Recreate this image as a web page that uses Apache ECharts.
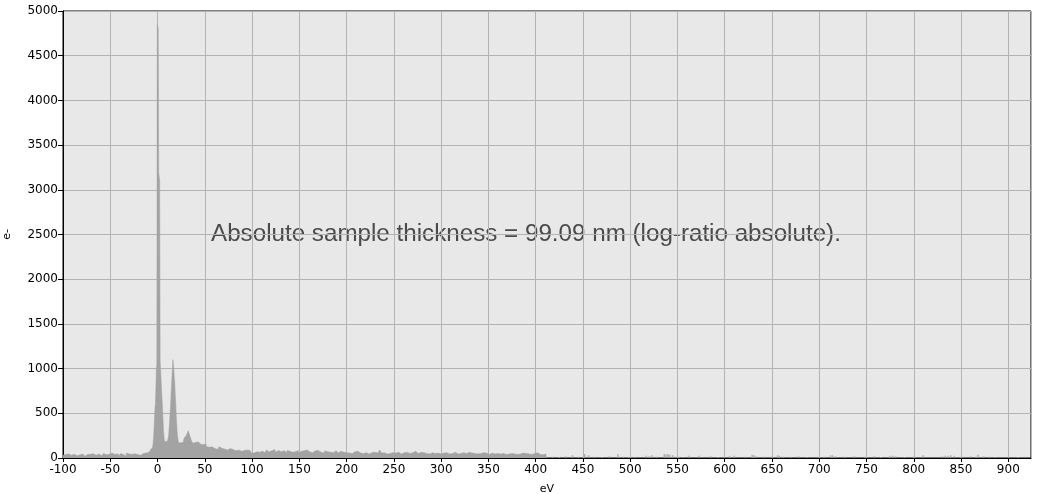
<!DOCTYPE html>
<html><head><meta charset="utf-8">
<script src="https://cdn.jsdelivr.net/npm/echarts@6/dist/echarts.min.js"></script>
<style>html,body{margin:0;padding:0;background:#fff}#c{width:1052px;height:494px}</style>
</head><body><div id="c"></div>
<script>
// ---- data (counts, e-) ----
// pre-edge baseline, -100 .. -8 eV every 2 eV
const negStart = -100, negStep = 2;
const negCounts = [30,40,35,45,30,38,42,25,40,35,45,30,20,38,42,35,48,30,40,45,25,38,50,35,42,30,55,40,35,48,25,50,38,20,55,45,40,35,48,38,45,30,50,40,55,65,80];
// zero-loss + plasmon region
const peakEnergy = [-7,-6.5,-6,-5.5,-5,-4.5,-4,-3.5,-3,-2.5,-2,-1.5,-1,-0.5,0,0.5,1,1.5,2,2.5,3,3.5,4,4.5,5,5.5,6,6.5,7,7.5,8,8.5,9,9.5,10,10.5,11,11.5,12,12.5,13,13.5,14,14.5,15,15.5,16,16.5,17,17.5,18,18.5,19,19.5,20,20.5,21,21.5,22,22.5,23,24,25,26,27,28,29,30,31,32,33,34,35,36,37,38,39,40,41,42,43,44,45,46,47,48,49,50,51,52,53,54,55,56,57,58,59,60];
const peakCounts = [90,95,100,105,120,160,220,313,330,556,600,780,1000,1040,4850,4850,4800,3190,3190,3100,1096,985,870,760,660,574,440,313,250,190,183,180,185,180,183,185,190,220,250,330,390,500,574,700,800,900,1000,1100,1050,985,900,838,700,615,480,390,295,240,200,170,165,160,170,165,175,200,230,240,255,280,305,270,240,200,183,165,185,175,190,170,180,165,175,155,170,150,160,145,155,130,140,120,135,115,125,110,120,105];
// tail, 62 .. 410 eV every 2 eV
const tailStart = 62, tailStep = 2;
const tailCounts = [
 120,95,125,110,100,115,90,105,85,95,
 80,100,90,75,95,85,90,70,85,60,
 55,70,50,65,75,85,60,90,70,80,
 75,95,65,85,70,90,80,60,85,75,
 65,80,70,85,55,75,80,65,90,70,
 75,60,80,70,85,65,75,55,80,70,
 65,75,60,80,70,55,75,65,70,60,
 55,65,50,70,60,75,55,65,50,60,
 55,45,60,50,65,55,70,90,55,60,
 45,55,50,60,40,55,65,50,45,60,
 55,65,50,70,60,75,55,50,65,55,
 60,50,55,45,60,65,50,55,60,45,
 55,50,60,45,55,50,65,55,45,50,
 55,60,50,70,65,55,60,50,45,55,
 50,60,45,55,40,50,55,45,60,50,
 45,55,50,40,55,45,50,60,45,40,
 50,45,55,40,50,45,55,40,50,45,
 60,40,55,35,45,0];
// sparse single-channel counts above ~415 eV: [eV, counts]
const sparseSpikes = [[418,15],[425,10],[432,20],[439,30],[445,15],[452,45],[456,30],[462,15],[470,10],[478,20],[487,45],[493,15],[498,10],[505,15],[517,25],[520,20],[523,30],[528,15],[536,45],[538,40],[540,45],[542,35],[545,30],[552,15],[556,10],[562,25],[573,25],[585,20],[593,10],[605,20],[610,25],[622,15],[629,35],[631,30],[633,20],[642,15],[650,20],[656,30],[658,25],[662,15],[670,15],[678,20],[687,10],[705,15],[712,30],[714,30],[717,20],[727,15],[737,20],[748,15],[758,20],[765,10],[775,25],[778,25],[781,20],[790,10],[800,15],[810,30],[830,20],[833,25],[836,25],[839,30],[843,25],[850,15],[860,20],[866,15],[868,40],[874,20],[880,15],[886,10],[900,15],[910,10]];
const xMin = -100, xMax = 924, xStep = 50;
const yMin = 0, yMax = 5000, yStep = 500;
const annotation = 'Absolute sample thickness = 99.09 nm (log-ratio absolute).';
const xName = 'eV', yName = 'e-';

// ---- build ----
const lineData = [];
negCounts.forEach((v, i) => lineData.push([negStart + i * negStep, v]));
peakEnergy.forEach((e, i) => lineData.push([e, peakCounts[i]]));
tailCounts.forEach((v, i) => lineData.push([tailStart + i * tailStep, v]));

const fill = '#a3a3a3';
const font = 'DejaVu Sans';
const chart = echarts.init(document.getElementById('c'), null, {renderer: 'canvas'});
chart.setOption({
  animation: false,
  backgroundColor: '#ffffff',
  grid: {left: 63, top: 11, right: 21, bottom: 36, containLabel: false, outerBoundsMode: 'none',
    show: true, backgroundColor: '#e8e8e8', borderColor: '#000', borderWidth: 1},
  xAxis: {
    type: 'value', min: xMin, max: xMax, interval: xStep,
    name: xName, nameLocation: 'middle', nameGap: 26,
    nameTextStyle: {fontFamily: font, fontSize: 11, color: '#000'},
    axisLine: {show: true, onZero: false, lineStyle: {color: '#000', width: 1}},
    axisTick: {show: true, length: 4, lineStyle: {color: '#000'}},
    axisLabel: {fontFamily: font, fontSize: 12, color: '#000', margin: 6, showMaxLabel: false,
      formatter: v => (v % xStep === 0 ? String(v) : '')},
    splitLine: {show: true, lineStyle: {color: '#b3b3b3', width: 1}}
  },
  yAxis: {
    type: 'value', min: yMin, max: yMax, interval: yStep,
    name: yName, nameLocation: 'middle', nameGap: 50, nameRotate: 90,
    nameTextStyle: {fontFamily: font, fontSize: 11, color: '#000'},
    axisLine: {show: true, onZero: false, lineStyle: {color: '#000', width: 1}},
    axisTick: {show: true, length: 5, lineStyle: {color: '#000'}},
    axisLabel: {fontFamily: font, fontSize: 12, color: '#000', margin: 5, formatter: v => String(v)},
    splitLine: {show: true, lineStyle: {color: '#b3b3b3', width: 1}}
  },
  graphic: [{
    type: 'text', left: 211, top: 222, silent: true,
    style: {text: annotation, fontFamily: 'Liberation Sans', fontSize: 24.2, fill: '#4a4a4a'}
  }],
  series: [
    {type: 'line', data: lineData, step: 'middle', showSymbol: false, symbol: 'none',
     lineStyle: {width: 0.5, color: fill}, areaStyle: {color: fill, opacity: 1}, silent: true, z: 2},
    {type: 'bar', data: sparseSpikes, barWidth: 1.2, itemStyle: {color: fill}, silent: true, z: 2}
  ]
});
</script></body></html>
